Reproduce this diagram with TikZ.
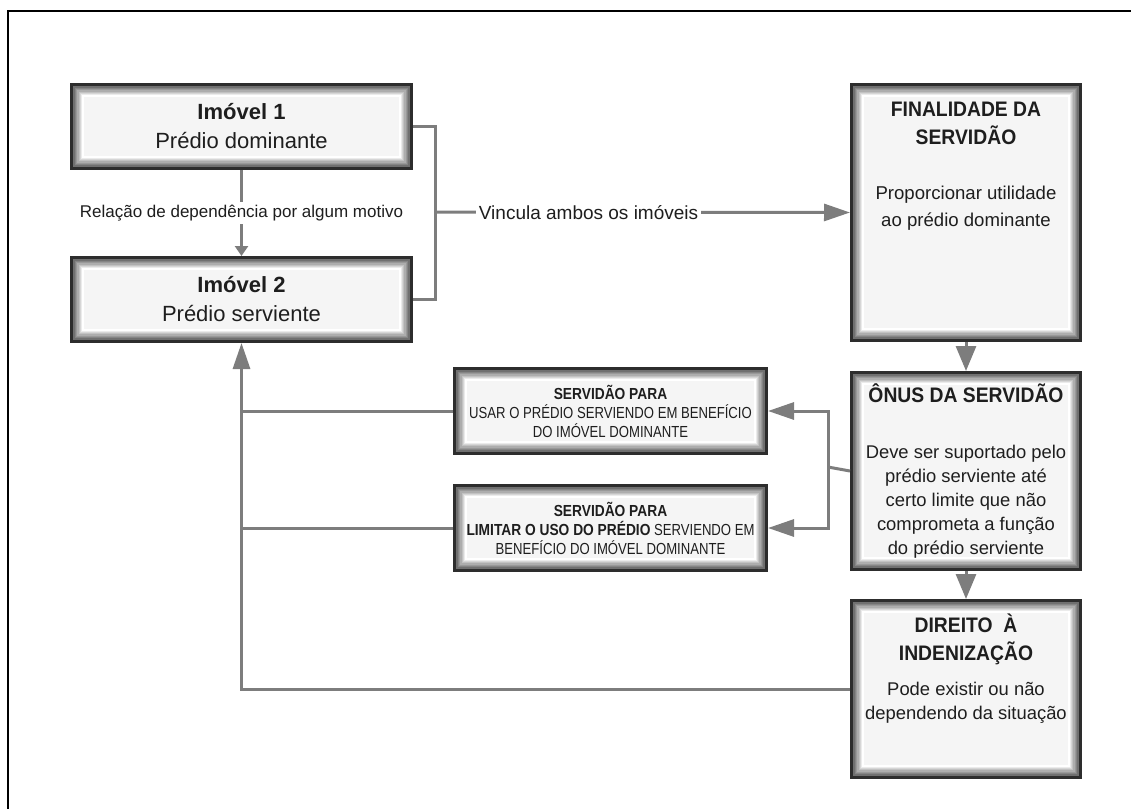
\documentclass[tikz,border=0pt]{standalone}
\usepackage{fontspec}
\setmainfont{Liberation Sans}
\newfontfamily\narrowsans[FakeStretch=0.82]{Liberation Sans}
\newfontfamily\flagsans[FakeStretch=0.86]{Liberation Sans}
\newfontfamily\headsans[FakeStretch=0.92]{Liberation Sans}
\usepackage{tikz}
\usetikzlibrary{
  arrows.meta,
  positioning
}
\definecolor{edgegray}{RGB}{45,45,45}
\definecolor{paper}{RGB}{245,245,245}
\definecolor{linkgray}{RGB}{125,125,125}
\definecolor{ink}{RGB}{30,30,30}
\newcommand{\boxhead}{\headsans\bfseries\fontsize{10.5}{13.75}\selectfont}
\newcommand{\hb}[1]{{\flagsans\bfseries #1}}
\tikzset{
  panel/.style={
    draw=edgegray,
    fill=paper,
    line width=1.5pt,
    inner sep=0pt,
    align=center,
    text=ink,
    path picture={
      \foreach \k in {1,...,9}{
        \pgfmathtruncatemacro\shd{72-8*\k}
        \draw[black!\shd, line width=0.75pt]
          ([shift={(\k*0.65pt,-\k*0.65pt)}]path picture bounding box.north west)
          rectangle ([shift={(-\k*0.65pt,\k*0.65pt)}]path picture bounding box.south east);
      }
    }
  },
  lot/.style={
    panel,
    minimum width=170pt,
    minimum height=42pt,
    font=\fontsize{11}{14.5}\selectfont
  },
  useflag/.style={
    panel,
    minimum width=156pt,
    minimum height=42.5pt,
    font=\narrowsans\fontsize{8}{9.5}\selectfont
  },
  tower/.style={
    panel,
    minimum width=114.5pt
  },
  link/.style={
    draw=linkgray,
    line width=1.5pt
  },
  tip/.style={
    link,
    -{Triangle[length=13pt,width=8.5pt]}
  },
  drop/.style={
    link,
    -{Triangle[length=12.5pt,width=10pt]}
  },
  tag/.style={
    fill=white,
    inner sep=1.5pt,
    text=ink
  }
}

\begin{document}
\begin{tikzpicture}[x=0.5pt, y=-0.5pt]
  \useasboundingbox (0,0) rectangle (1131,809);
  \draw[line width=1.2pt] (8,809) |- (1131,11);

  % the two properties
  \node[lot] (imo1) at (241.5,126.5) {\textbf{Imóvel 1}\\Prédio dominante};
  \node[lot, below=43pt of imo1] (imo2) {\textbf{Imóvel 2}\\Prédio serviente};

  % right column
  \node[tower] (final) at (966,212.5) {\parbox[c][128pt][t]{112pt}{\centering
    \fontsize{9.3}{13.75}\selectfont
    \rule{0pt}{16pt}{\boxhead FINALIDADE DA}\\
    {\boxhead SERVIDÃO}\\[13.75pt]
    Proporcionar utilidade\\ao prédio dominante}};
  \node[tower, below=14.5pt of final] (onus) {\parbox[c][98.5pt][t]{112pt}{\centering
    \fontsize{9.2}{12}\selectfont
    \rule{0pt}{15pt}{\boxhead ÔNUS DA SERVIDÃO}\\[16pt]
    Deve ser suportado pelo\\prédio serviente até\\certo limite que não\\
    comprometa a função\\do prédio serviente}};
  \node[tower, below=14pt of onus] (direito) {\parbox[c][88.5pt][t]{112pt}{\centering
    \fontsize{9.2}{12}\selectfont
    \rule{0pt}{16pt}{\boxhead DIREITO\ \ À}\\[2pt]
    {\boxhead INDENIZAÇÃO}\\[5.5pt]
    Pode existir ou não\\dependendo da situação}};

  % middle column
  \node[useflag] (usar) at (610.5,411) {\hb{SERVIDÃO PARA}\\
    USAR O PRÉDIO SERVIENDO EM BENEFÍCIO\\DO IMÓVEL DOMINANTE};
  \node[useflag, below=14.5pt of usar] (limitar) {\hb{SERVIDÃO PARA}\\
    \hb{LIMITAR O USO DO PRÉDIO} SERVIENDO EM\\BENEFÍCIO DO IMÓVEL DOMINANTE};

  \coordinate (jointL) at (435,212);
  \coordinate (jointR) at (828,467);

  \draw[link, -{Triangle[length=5pt,width=6.5pt]}] (imo1.south) -- node[tag,
    font=\fontsize{8.5}{10}\selectfont] {Relação de dependência por algum motivo} (imo2.north);
  \draw[link] (imo1.east) -| (jointL) |- (imo2.east);
  \draw[tip] (jointL) -- node[tag, pos=0.37,
    font=\fontsize{9.5}{11}\selectfont] {Vincula ambos os imóveis} (final.west);

  \draw[drop] (final.south) -- (onus.north);
  \draw[drop] (onus.south) -- (direito.north);

  \draw[link] (onus.west) -- (jointR);
  \draw[tip] (jointR) |- (usar.east);
  \draw[tip] (jointR) |- (limitar.east);

  \draw[tip] (direito.west) -| (imo2.south);
  \draw[link] (usar.west) -- (usar.west -| imo2.south);
  \draw[link] (limitar.west) -- (limitar.west -| imo2.south);
\end{tikzpicture}
\end{document}
